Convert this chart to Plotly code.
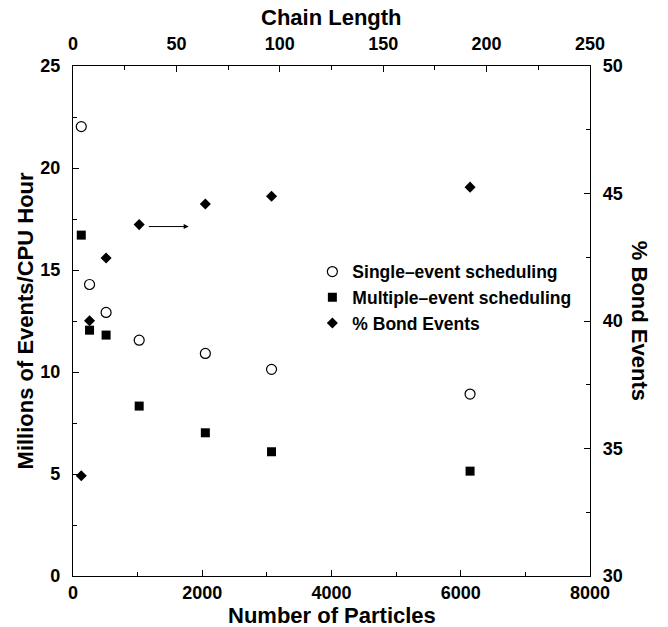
import plotly.graph_objects as go

# Simulation throughput vs. system size
particles = [128, 256, 512, 1024, 2048, 3072, 6144]
chain_length = [4, 8, 16, 32, 64, 96, 192]
single_event = [22.03, 14.29, 12.92, 11.56, 10.91, 10.13, 8.92]
multiple_event = [16.71, 12.05, 11.81, 8.33, 7.02, 6.09, 5.14]
bond_pct = [33.93, 40.01, 42.47, 43.78, 44.59, 44.89, 45.25]

FONT = "Liberation Sans, Arial, Helvetica, sans-serif"
TICKFONT = dict(family=FONT, size=18, color="black", weight="bold")
TITLEFONT = dict(family=FONT, size=22, color="black", weight="bold")

fig = go.Figure()
fig.add_trace(go.Scatter(
    x=particles, y=single_event, mode="markers",
    name="Single\u2013event scheduling",
    marker=dict(symbol="circle-open", size=10, color="black",
                line=dict(width=1.2, color="black")),
))
fig.add_trace(go.Scatter(
    x=particles, y=multiple_event, mode="markers",
    name="Multiple\u2013event scheduling",
    marker=dict(symbol="square", size=9, color="black"),
))
fig.add_trace(go.Scatter(
    x=chain_length, y=bond_pct, mode="markers",
    name="% Bond Events", xaxis="x2", yaxis="y2",
    marker=dict(symbol="diamond", size=8.5, color="black"),
))

axis_common = dict(
    showline=True, linecolor="black", linewidth=1.3,
    ticks="inside", ticklen=6, tickwidth=1, tickcolor="black",
    showgrid=False, zeroline=False, tickfont=TICKFONT,
)
minor_common = dict(ticks="inside", ticklen=4, tickwidth=1, tickcolor="black", showgrid=False)

fig.update_layout(
    width=668, height=627,
    margin=dict(l=73, r=78, t=66, b=51),
    paper_bgcolor="white", plot_bgcolor="white",
    showlegend=True,
    legend=dict(
        x=0.463, y=0.632, xanchor="left", yanchor="top",
        font=dict(family=FONT, size=17.5, color="black", weight="bold"),
        bgcolor="rgba(0,0,0,0)", itemwidth=30, tracegroupgap=0,
    ),
    xaxis=dict(range=[0, 8000], dtick=2000, tick0=0, ticklabelstandoff=0,
               minor=dict(dtick=1000, **minor_common), **axis_common),
    yaxis=dict(range=[0, 25], dtick=5, tick0=0, ticklabelstandoff=8,
               minor=dict(dtick=2.5, **minor_common), **axis_common),
    xaxis2=dict(range=[0, 250], dtick=50, tick0=0, overlaying="x", side="top",
                anchor="y2", ticklabelstandoff=8,
                minor=dict(dtick=25, **minor_common), **axis_common),
    yaxis2=dict(range=[30, 50], dtick=5, tick0=30, overlaying="y", side="right",
                anchor="x2", ticklabelstandoff=8,
                minor=dict(dtick=2.5, **minor_common), **axis_common),
)

# Axis titles
fig.add_annotation(text="Number of Particles", xref="paper", yref="paper",
                   x=0.5, y=-0.0765, xanchor="center", yanchor="middle",
                   showarrow=False, font=TITLEFONT)
fig.add_annotation(text="Chain Length", xref="paper", yref="paper",
                   x=0.5, y=1.095, xanchor="center", yanchor="middle",
                   showarrow=False, font=TITLEFONT)
fig.add_annotation(text="Millions of Events/CPU Hour", xref="paper", yref="paper",
                   x=-0.092, y=0.5, xanchor="center", yanchor="middle",
                   textangle=-90, showarrow=False, font=TITLEFONT)
fig.add_annotation(text="% Bond Events", xref="paper", yref="paper",
                   x=1.097, y=0.5, xanchor="center", yanchor="middle",
                   textangle=90, showarrow=False, font=TITLEFONT)

# Arrow pointing the bond-event series to the right-hand axis
fig.add_annotation(x=1790, y=17.13, ax=1150, ay=17.13,
                   xref="x", yref="y", axref="x", ayref="y",
                   text="", showarrow=True, arrowhead=2, arrowsize=1,
                   arrowwidth=1, arrowcolor="black")

fig.write_html("out.html")
